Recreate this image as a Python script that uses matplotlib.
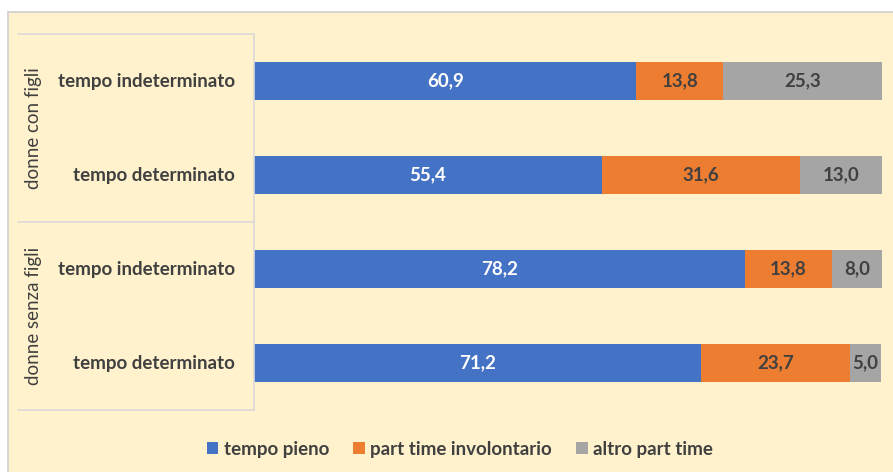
import matplotlib.pyplot as plt
from matplotlib.patches import Rectangle

# data
categories = ['tempo indeterminato', 'tempo determinato',
              'tempo indeterminato', 'tempo determinato']
groups = ['donne con figli', 'donne senza figli']
tempo_pieno = [60.9, 55.4, 78.2, 71.2]
part_involontario = [13.8, 31.6, 13.8, 23.7]
altro_part = [25.3, 13.0, 8.0, 5.0]
series_names = ['tempo pieno', 'part time involontario', 'altro part time']

plt.rcParams['font.family'] = ['Lato', 'DejaVu Sans']

bg = '#FFF2CC'
txt = '#404040'
colors = ['#4472C4', '#ED7D31', '#A5A5A5']
fs = 13.5

fig = plt.figure(figsize=(8.93, 4.72), dpi=100)
fig.patch.set_facecolor('white')
# chart area background with thin border
fig.patches.append(Rectangle((8 / 893, -0.01), 1.0, (472 - 12) / 472 + 0.01,
                             transform=fig.transFigure, facecolor=bg,
                             edgecolor='#D0D0D0', linewidth=1.2, zorder=-5))

ax = fig.add_axes([254 / 893, 1 - 410 / 472, 628 / 893, 376 / 472])
ax.set_facecolor('none')
ax.set_zorder(2)

y = list(range(len(categories)))
left = [0] * len(categories)
for vals, col, name in zip([tempo_pieno, part_involontario, altro_part], colors, series_names):
    bars = ax.barh(y, vals, left=left, height=0.4, color=col, label=name)
    lab_col = 'white' if col == colors[0] else txt
    for b, v in zip(bars, vals):
        ax.text(b.get_x() + b.get_width() / 2, b.get_y() + b.get_height() / 2,
                f'{v:.1f}'.replace('.', ','), ha='center', va='center',
                color=lab_col, fontsize=fs, fontweight='bold')
    left = [a + b for a, b in zip(left, vals)]

ax.set_xlim(0, 100)
ax.set_ylim(3.5, -0.5)
ax.set_xticks([])
ax.set_yticks([])
for s in ax.spines.values():
    s.set_visible(False)

# left category box
line_col = '#D9D9D9'
x0 = (18 - 254) / 628
for yy in [1.0, 0.5, 0.0]:
    ax.plot([x0, 0], [yy, yy], transform=ax.transAxes, color=line_col,
            lw=1.2, clip_on=False)
ax.plot([0, 0], [0, 1], transform=ax.transAxes, color=line_col, lw=1.2, clip_on=False)

for i, c in enumerate(categories):
    ax.text(-19 / 628, i, c, transform=ax.get_yaxis_transform(), ha='right',
            va='center', fontsize=fs, fontweight='bold', color=txt)
for j, g in enumerate(groups):
    ax.text(x0 + 15 / 628, 2 * j + 0.5, g, transform=ax.get_yaxis_transform(),
            ha='center', va='center', rotation=90, fontsize=fs, color=txt)

leg = fig.legend(loc='center', bbox_to_anchor=(460 / 893, 1 - 449 / 472), ncol=3,
                 frameon=False, handlelength=0.6, handleheight=0.6,
                 handletextpad=0.3, columnspacing=1.3,
                 prop={'size': fs, 'weight': 'bold'})
for t in leg.get_texts():
    t.set_color(txt)

fig.savefig('out.png', dpi=100, facecolor=fig.get_facecolor())
